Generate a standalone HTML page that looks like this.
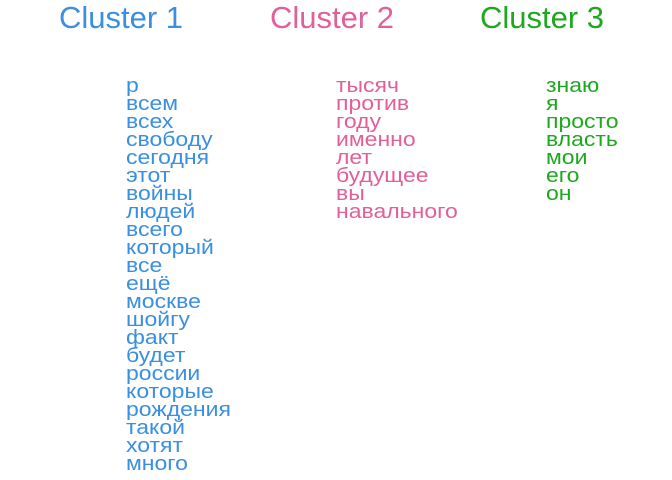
<!DOCTYPE html>
<html><head><meta charset="utf-8"><style>
html,body{margin:0;padding:0;background:#fff;width:672px;height:480px;overflow:hidden}
svg{display:block}
text{font-family:"Liberation Sans",sans-serif}
</style></head><body>
<svg width="672" height="480" xmlns="http://www.w3.org/2000/svg">
<g font-size="31">
<text x="121" y="28" text-anchor="middle" fill="#3a8fe0">Cluster 1</text>
<text x="332" y="28" text-anchor="middle" fill="#e2609a">Cluster 2</text>
<text x="542" y="28" text-anchor="middle" fill="#1ea81e">Cluster 3</text>
</g>
<g font-size="20" fill="#3a8fe0" transform="translate(126,0) scale(1.15,1)">
<text x="0" y="92">р</text><text x="0" y="110">всем</text><text x="0" y="128">всех</text><text x="0" y="146">свободу</text><text x="0" y="164">сегодня</text><text x="0" y="182">этот</text><text x="0" y="200">войны</text><text x="0" y="218">людей</text><text x="0" y="236">всего</text><text x="0" y="254">который</text><text x="0" y="272">все</text><text x="0" y="290">ещё</text><text x="0" y="308">москве</text><text x="0" y="326">шойгу</text><text x="0" y="344">факт</text><text x="0" y="362">будет</text><text x="0" y="380">россии</text><text x="0" y="398">которые</text><text x="0" y="416">рождения</text><text x="0" y="434">такой</text><text x="0" y="452">хотят</text><text x="0" y="470">много</text>
</g>
<g font-size="20" fill="#e2609a" transform="translate(336,0) scale(1.15,1)">
<text x="0" y="92">тысяч</text><text x="0" y="110">против</text><text x="0" y="128">году</text><text x="0" y="146">именно</text><text x="0" y="164">лет</text><text x="0" y="182">будущее</text><text x="0" y="200">вы</text><text x="0" y="218">навального</text>
</g>
<g font-size="20" fill="#1ea81e" transform="translate(546,0) scale(1.15,1)">
<text x="0" y="92">знаю</text><text x="0" y="110">я</text><text x="0" y="128">просто</text><text x="0" y="146">власть</text><text x="0" y="164">мои</text><text x="0" y="182">его</text><text x="0" y="200">он</text>
</g>
</svg>
</body></html>
